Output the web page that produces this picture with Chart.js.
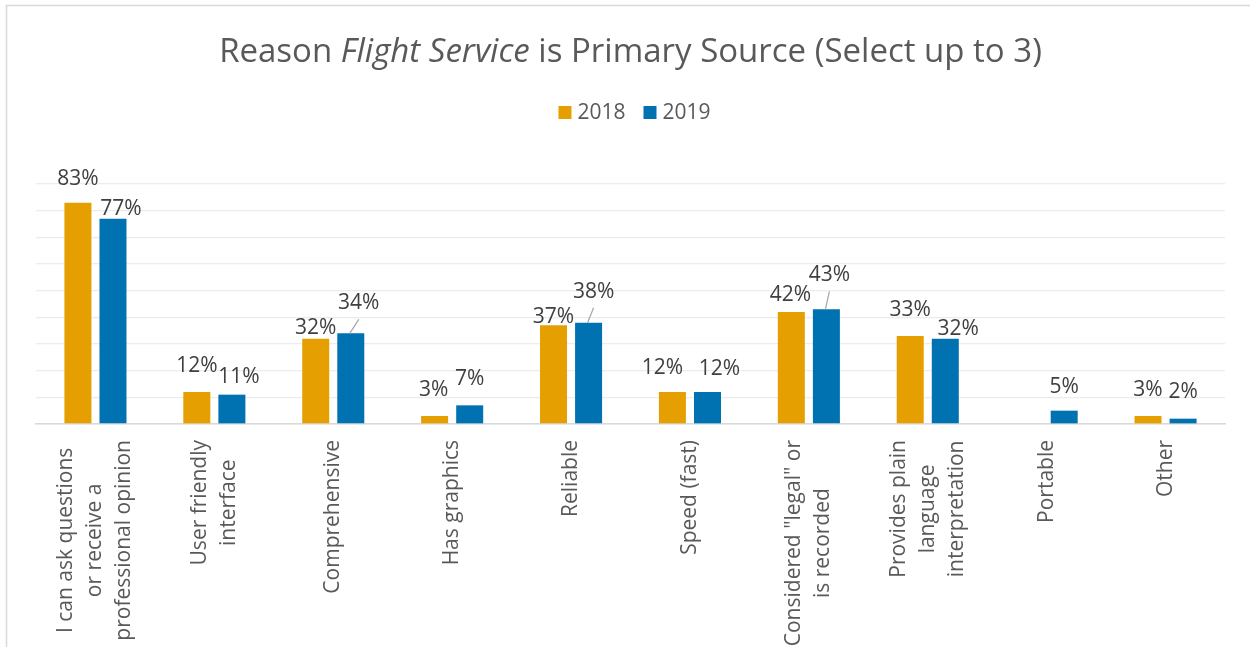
<!DOCTYPE html>
<html>
<head>
<meta charset="utf-8">
<script src="https://cdn.jsdelivr.net/npm/chart.js@4.4.0/dist/chart.umd.min.js"></script>
<style>
  html, body { margin: 0; padding: 0; background: #fff; }
  #wrap { width: 1250px; height: 647px; position: relative; }
</style>
</head>
<body>
<div id="wrap"><canvas id="myChart"></canvas></div>
<script>
// chart data
const categories = [
    ['I can ask questions', 'or receive a', 'professional opinion'],
    ['User friendly', 'interface'],
    ['Comprehensive'],
    ['Has graphics'],
    ['Reliable'],
    ['Speed (fast)'],
    ['Considered "legal" or', 'is recorded'],
    ['Provides plain', 'language', 'interpretation'],
    ['Portable'],
    ['Other']
];
const seriesNames = ['2018', '2019'];
const values2018 = [83, 12, 32, 3, 37, 12, 42, 33, null, 3];
const values2019 = [77, 11, 34, 7, 38, 12, 43, 32, 5, 2];
const yMin = 0;
const yMax = 90;
const yStep = 10;

const FONT = "'Open Sans', 'DejaVu Sans', sans-serif";
const colors = ['#E69F00', '#0072B2'];

// label nudges (px from bar top centre), leader lines where Excel had them
const labelNudge = [
    [[0, -24], [0, -26], [0, -11], [-1, -26], [0, -8], [-10, -24], [-1, -17], [0, -26], null, [0, -26]],
    [[8, -10], [7, -18], [8, -30], [0, -26], [5, -31], [12, -23], [3, -34], [13, -10], [0, -24], [0, -27]]
];
const leaders = [[], [2, 4, 6]];

const decorations = {
    id: 'decorations',
    afterDatasetsDraw(chart) {
        const ctx = chart.ctx;
        ctx.save();
        ctx.font = '21px ' + FONT;
        ctx.fillStyle = '#404040';
        ctx.textAlign = 'center';
        ctx.textBaseline = 'middle';
        chart.data.datasets.forEach((ds, di) => {
            const meta = chart.getDatasetMeta(di);
            meta.data.forEach((bar, i) => {
                const v = ds.data[i];
                if (v === null || v === undefined) return;
                const n = labelNudge[di][i] || [0, -20];
                const lx = bar.x + n[0];
                const ly = bar.y + n[1];
                ctx.fillText(v + '%', lx, ly);
                if (leaders[di].includes(i)) {
                    ctx.strokeStyle = '#a6a6a6';
                    ctx.lineWidth = 1.2;
                    ctx.beginPath();
                    ctx.moveTo(bar.x - 1, bar.y);
                    ctx.lineTo(lx, ly + 16);
                    ctx.stroke();
                }
            });
        });
        ctx.restore();
    },
    afterDraw(chart) {
        const ctx = chart.ctx;
        const area = chart.chartArea;
        const xScale = chart.scales.x;
        const midX = (area.left + area.right) / 2;
        ctx.save();

        // outer frame
        ctx.strokeStyle = '#d9d9d9';
        ctx.lineWidth = 1.5;
        ctx.strokeRect(6.5, 5.5, 1260, 660);

        // title with italic part
        const parts = [
            { t: 'Reason ', f: '33px ' + FONT },
            { t: 'Flight Service', f: 'italic 33px ' + FONT },
            { t: ' is Primary Source (Select up to 3)', f: '33px ' + FONT }
        ];
        let total = 0;
        parts.forEach(p => { ctx.font = p.f; p.w = ctx.measureText(p.t).width; total += p.w; });
        let tx = midX - total / 2;
        ctx.fillStyle = '#595959';
        ctx.textAlign = 'left';
        ctx.textBaseline = 'alphabetic';
        parts.forEach(p => { ctx.font = p.f; ctx.fillText(p.t, tx, 62); tx += p.w; });

        // legend
        ctx.font = '21px ' + FONT;
        ctx.textBaseline = 'middle';
        const box = 13, gapText = 6, gapItem = 18;
        const widths = seriesNames.map(s => ctx.measureText(s).width);
        let lw = 0;
        widths.forEach((w, i) => { lw += box + gapText + w + (i ? gapItem : 0); });
        let lx = midX + 4 - lw / 2;
        seriesNames.forEach((s, i) => {
            ctx.fillStyle = colors[i];
            ctx.fillRect(lx, 106, box, box);
            ctx.fillStyle = '#595959';
            ctx.fillText(s, lx + box + gapText, 113);
            lx += box + gapText + widths[i] + gapItem;
        });

        // category labels, rotated, lines centred
        ctx.font = '21px ' + FONT;
        ctx.fillStyle = '#595959';
        ctx.textAlign = 'center';
        ctx.textBaseline = 'middle';
        const lineH = 29;
        categories.forEach((lines, i) => {
            const x = xScale.getPixelForValue(i);
            const maxW = Math.max(...lines.map(l => ctx.measureText(l).width));
            ctx.save();
            ctx.translate(x, 440);
            ctx.rotate(-Math.PI / 2);
            lines.forEach((l, j) => {
                ctx.fillText(l, -maxW / 2, (j - (lines.length - 1) / 2) * lineH);
            });
            ctx.restore();
        });
        ctx.restore();
    }
};

const ctx = document.getElementById('myChart').getContext('2d');
new Chart(ctx, {
    type: 'bar',
    data: {
        labels: categories.map(c => c.join(' ')),
        datasets: [
            {
                label: seriesNames[0],
                data: values2018,
                backgroundColor: colors[0],
                categoryPercentage: 0.59,
                barPercentage: 0.77
            },
            {
                label: seriesNames[1],
                data: values2019,
                backgroundColor: colors[1],
                categoryPercentage: 0.59,
                barPercentage: 0.77
            }
        ]
    },
    options: {
        responsive: true,
        maintainAspectRatio: false,
        animation: false,
        layout: {
            padding: { left: 36, right: 25, top: 184, bottom: 0 }
        },
        plugins: {
            legend: { display: false },
            title: { display: false },
            tooltip: { enabled: false }
        },
        scales: {
            x: {
                grid: { display: false },
                border: { color: '#d9d9d9', width: 1.5 },
                ticks: { display: false },
                afterFit: (s) => { s.height = 647 - 424; }
            },
            y: {
                min: yMin,
                max: yMax,
                ticks: { display: false, stepSize: yStep },
                grid: { color: '#ececec', lineWidth: 1.3, drawTicks: false },
                border: { display: false },
                afterFit: (s) => { s.width = 0; }
            }
        }
    },
    plugins: [decorations]
});
</script>
</body>
</html>
